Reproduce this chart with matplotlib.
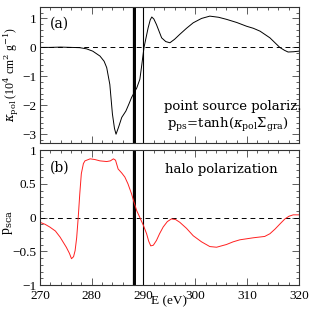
import matplotlib
matplotlib.use("Agg")
import matplotlib.pyplot as plt
from matplotlib.ticker import MultipleLocator

plt.rcParams['font.family'] = ['Liberation Serif', 'DejaVu Serif']
plt.rcParams['mathtext.fontset'] = 'dejavuserif'

# Panel (a): kappa_pol (10^4 cm^2 g^-1) vs E (eV)
E_a = [270, 272, 274, 276, 277.7, 279, 280.2, 281.6, 282.4, 282.9, 283.5, 284.0, 284.4, 284.7,
       285.2, 285.8, 286.6, 287.2, 287.7, 288.7, 289.3, 289.6, 290.1, 290.9, 291.3, 291.6,
       292.0, 292.5, 293.5, 294.3, 295.1, 296.0, 297.0, 298.3, 299.6, 301.2, 302.8, 304.5,
       306.0, 308.0, 309.9, 311.2, 312.5, 314.4, 316.3, 317.2, 317.9, 319.0, 320]
kappa = [0.0, 0.0, 0.01, 0.0, -0.01, -0.05, -0.13, -0.3, -0.48, -0.7, -1.28, -2.3, -2.8, -3.0,
         -2.75, -2.42, -2.2, -1.95, -1.73, -1.4, -1.1, -0.7, 0.0, 0.68, 0.95, 1.05,
         0.98, 0.79, 0.33, 0.2, 0.16, 0.28, 0.45, 0.66, 0.85, 1.0, 1.08, 1.04,
         0.97, 0.86, 0.73, 0.66, 0.56, 0.33, 0.0, -0.1, -0.16, -0.15, -0.13]

# Panel (b): p_sca vs E (eV)
E_b = [270, 271.0, 271.9, 273.0, 273.9, 275.1, 275.7, 276.1, 276.5, 276.8, 277.1, 277.4, 277.7,
       278.0, 278.4, 278.7, 279.7, 280.6, 281.6, 282.9, 283.6, 284.2, 284.6, 285.1, 285.8,
       286.4, 287.0, 287.7, 288.2, 288.7, 289.3, 290.0, 290.6, 291.0, 291.4, 291.9, 292.5,
       293.1, 293.8, 294.6, 295.4, 296.2, 297.0, 298.3, 299.6, 301.2, 302.8, 304.1, 306.0,
       307.3, 308.6, 311.2, 313.4, 314.4, 315.4, 316.4, 317.3, 318.1, 318.9, 320]
p_sca = [-0.07, -0.1, -0.14, -0.2, -0.29, -0.44, -0.53, -0.61, -0.58, -0.49, -0.3, 0.0, 0.35,
         0.65, 0.8, 0.84, 0.87, 0.86, 0.84, 0.83, 0.84, 0.87, 0.85, 0.72, 0.66,
         0.6, 0.5, 0.35, 0.22, 0.1, 0.0, -0.12, -0.24, -0.35, -0.42, -0.41, -0.34,
         -0.24, -0.14, -0.06, -0.02, -0.03, -0.07, -0.16, -0.27, -0.36, -0.43, -0.44, -0.40,
         -0.36, -0.33, -0.30, -0.28, -0.24, -0.17, -0.09, -0.02, 0.02, 0.04, 0.04]

# vertical marker lines (eV) and their widths
vlines = [287.9, 288.35, 290.0]
vwidths = [0.9, 1.4, 0.8]

fig = plt.figure(figsize=(3.14, 3.12), dpi=100)
ax1 = fig.add_axes([0.127, 0.542, 0.825, 0.436])
ax2 = fig.add_axes([0.127, 0.0865, 0.825, 0.4325])

for ax in (ax1, ax2):
    ax.set_xlim(270, 320)
    ax.axhline(0, color='black', lw=0.7, ls=(0, (5, 4)))
    for v, w in zip(vlines, vwidths):
        ax.axvline(v, color='black', lw=w)
    ax.xaxis.set_major_locator(MultipleLocator(10))
    ax.xaxis.set_minor_locator(MultipleLocator(2))
    ax.tick_params(which='both', direction='in', top=True, right=True, labelsize=9.5,
                   width=0.6, color='#444444', pad=2.5)
    ax.tick_params(axis='x', pad=3.5)
    ax.tick_params(which='major', length=5)
    ax.tick_params(which='minor', length=2.5)
    for s in ax.spines.values():
        s.set_linewidth(0.8)
        s.set_color('#333333')

ax1.plot(E_a, kappa, color='black', lw=0.7)
ax1.set_ylim(-3.3, 1.4)
ax1.yaxis.set_major_locator(MultipleLocator(1))
ax1.yaxis.set_minor_locator(MultipleLocator(0.2))
ax1.tick_params(labelbottom=False)
ax1.set_ylabel(r'$\kappa_{\rm pol}$ (10$^4$ cm$^2$ g$^{-1}$)', fontsize=8.5)
ax1.yaxis.set_label_coords(-0.074, 0.5)
ax1.text(0.04, 0.925, '(a)', transform=ax1.transAxes, fontsize=10, va='top', ha='left',
         family='DejaVu Serif')
ax1.text(1.01, 0.265, 'point source polariz.', transform=ax1.transAxes, fontsize=9.5,
         ha='right', va='center', family='DejaVu Serif')
ax1.text(0.96, 0.135, r'p$_{\rm ps}$=tanh($\kappa_{\rm pol}\Sigma_{\rm gra}$)',
         transform=ax1.transAxes, fontsize=9.5, ha='right', va='center', family='DejaVu Serif')

ax2.plot(E_b, p_sca, color='#ff2020', lw=0.7)
ax2.set_ylim(-1, 1)
ax2.yaxis.set_major_locator(MultipleLocator(0.5))
ax2.yaxis.set_minor_locator(MultipleLocator(0.1))
ax2.set_yticks([-1, -0.5, 0, 0.5, 1])
ax2.set_yticklabels(['\u22121', '\u22120.5', '0', '0.5', '1'])
ax2.set_ylabel(r'p$_{\rm sca}$', fontsize=10)
ax2.yaxis.set_label_coords(-0.097, 0.46)
ax2.set_xlabel('E (eV)', fontsize=9.5, labelpad=-5)
ax2.text(0.04, 0.925, '(b)', transform=ax2.transAxes, fontsize=10, va='top', ha='left',
         family='DejaVu Serif')
ax2.text(0.70, 0.855, 'halo polarization', transform=ax2.transAxes, fontsize=9.5,
         ha='center', va='center', family='DejaVu Serif')

fig.savefig('out.png', dpi=100)
